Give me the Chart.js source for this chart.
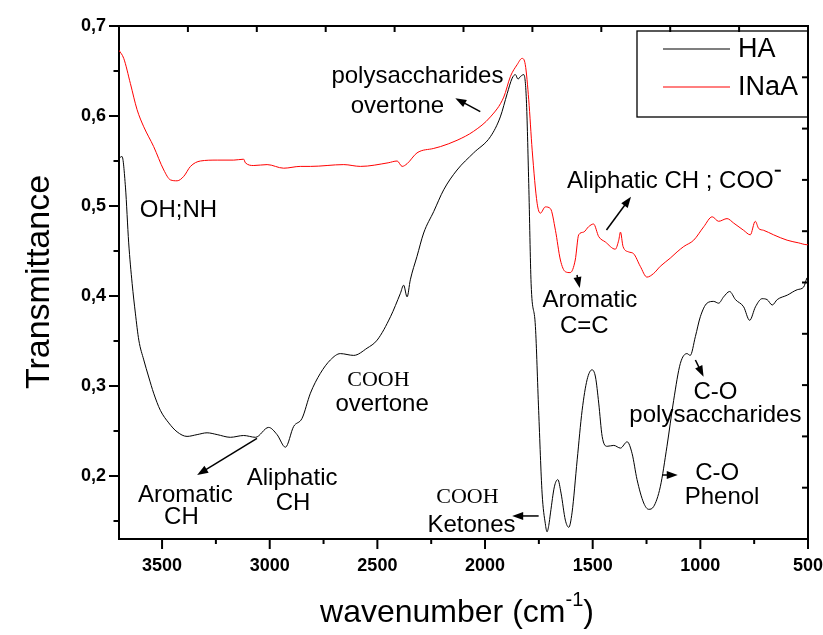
<!DOCTYPE html>
<html><head><meta charset="utf-8">
<script src="https://cdn.jsdelivr.net/npm/chart.js@4.4.1/dist/chart.umd.min.js"></script>
<style>html,body{margin:0;padding:0;background:#fff}canvas{display:block}</style>
</head><body>
<canvas id="c" width="823" height="635"></canvas>
<script>
// ---------- data ----------
const haWavenumber = [3700,3686,3670,3655,3639,3624,3608,3585,3562,3539,3508,3469,3430,3384,3337,3291,3244,3183,3121,3066,3005,2966,2927,2889,2850,2811,2765,2718,2672,2610,2548,2501,2439,2393,2378,2362,2347,2316,2285,2238,2192,2130,2053,1975,1929,1897,1874,1859,1847,1835,1820,1808,1797,1786,1766,1751,1735,1720,1712,1704,1696,1678,1662,1647,1627,1611,1596,1572,1549,1526,1503,1487,1472,1456,1433,1402,1371,1340,1317,1294,1263,1240,1217,1186,1155,1124,1093,1062,1047,1023,1000,969,938,915,892,864,837,799,771,744,713,690,666,643,596,550,520,505,500];
const haTransmittance = [0.553,0.555,0.521,0.459,0.414,0.381,0.351,0.329,0.310,0.292,0.273,0.259,0.249,0.244,0.246,0.248,0.246,0.243,0.245,0.243,0.254,0.246,0.232,0.255,0.264,0.292,0.314,0.329,0.336,0.334,0.342,0.351,0.377,0.403,0.412,0.399,0.418,0.444,0.470,0.494,0.518,0.540,0.559,0.577,0.599,0.625,0.642,0.646,0.641,0.644,0.646,0.618,0.525,0.414,0.366,0.273,0.181,0.147,0.138,0.145,0.159,0.188,0.196,0.181,0.151,0.143,0.159,0.218,0.273,0.307,0.318,0.310,0.281,0.244,0.233,0.234,0.231,0.238,0.225,0.196,0.170,0.163,0.166,0.188,0.233,0.284,0.325,0.336,0.334,0.355,0.377,0.392,0.394,0.392,0.399,0.405,0.396,0.388,0.373,0.388,0.397,0.396,0.390,0.396,0.401,0.407,0.410,0.420,0.421];

const inaaWavenumber = [3700,3678,3647,3616,3585,3539,3492,3461,3430,3399,3368,3322,3244,3167,3121,3113,3074,3012,2935,2858,2811,2656,2579,2450,2408,2385,2362,2316,2238,2207,2130,2053,1975,1913,1882,1851,1828,1813,1797,1781,1758,1743,1720,1696,1673,1650,1627,1604,1581,1565,1542,1519,1496,1472,1441,1395,1379,1371,1359,1333,1310,1279,1248,1217,1186,1140,1108,1077,1031,984,945,915,876,845,799,768,745,729,706,660,597,543,505,500];
const inaaTransmittance = [0.673,0.664,0.636,0.607,0.588,0.566,0.540,0.529,0.528,0.533,0.544,0.550,0.551,0.551,0.552,0.548,0.545,0.546,0.542,0.544,0.544,0.546,0.544,0.548,0.550,0.544,0.547,0.559,0.564,0.566,0.573,0.583,0.599,0.621,0.644,0.657,0.664,0.657,0.618,0.562,0.503,0.492,0.499,0.497,0.473,0.440,0.427,0.426,0.440,0.468,0.471,0.477,0.480,0.466,0.460,0.452,0.462,0.471,0.455,0.449,0.447,0.433,0.421,0.425,0.433,0.442,0.449,0.455,0.462,0.477,0.488,0.483,0.486,0.481,0.473,0.468,0.483,0.475,0.473,0.468,0.462,0.459,0.457,0.457];

const seriesNames = ['HA', 'INaA'];
const xTickValues = [500,750,1000,1250,1500,1750,2000,2250,2500,2750,3000,3250,3500];
const yTickValues = [0.15,0.2,0.25,0.3,0.35,0.4,0.45,0.5,0.55,0.6,0.65,0.7];
const xRange = [500, 3700];
const yRange = [0.13, 0.7];
const frameTicks = [1,2,3,4,5,6,7,8,9];

// annotation texts (positions in data units: wavenumber, transmittance)
const labelTexts = [
  ['polysaccharides', 2314, 0.6437, 'sans'],
  ['overtone', 2407, 0.6111, 'sans'],
  ['OH;NH', 3424, 0.4956, 'sans'],
  ['Aromatic', 1513, 0.3956, 'sans'],
  ['C=C', 1539, 0.3659, 'sans'],
  ['COOH', 2495, 0.3067, 'serif'],
  ['overtone', 2478, 0.2800, 'sans'],
  ['Aromatic', 3392, 0.1789, 'sans'],
  ['CH', 3410, 0.1544, 'sans'],
  ['Aliphatic', 2896, 0.1974, 'sans'],
  ['CH', 2892, 0.1697, 'sans'],
  ['COOH', 2082, 0.1767, 'serif'],
  ['Ketones', 2063, 0.1456, 'sans'],
  ['C-O', 922, 0.2030, 'sans'],
  ['Phenol', 899, 0.1763, 'sans'],
  ['C-O', 930, 0.2930, 'sans'],
  ['polysaccharides', 930, 0.2678, 'sans']
];
const leftLabel = ['Aliphatic CH ; COO', 1619, 0.527];
const arrowList = [
  [2022, 0.6048, 2138, 0.6197],
  [1436, 0.4733, 1322, 0.5103],
  [1573, 0.4233, 1560, 0.4089],
  [3059, 0.2419, 3337, 0.2011],
  [1751, 0.1556, 1874, 0.1556],
  [1178, 0.2011, 1105, 0.2011],
  [1023, 0.3289, 985, 0.3103]
];

const SANS = '"Liberation Sans", Arial, sans-serif';
const SERIF = '"Liberation Serif", "Times New Roman", serif';

function pairs(xs, ys) { return xs.map((x, i) => ({x: x, y: ys[i]})); }

const deco = {
  id: 'deco',
  afterDraw(chart) {
    const ctx = chart.ctx, a = chart.chartArea;
    const sx = chart.scales.x, sy = chart.scales.y, tx = chart.scales.x2, ry = chart.scales.y2;
    ctx.save();
    ctx.strokeStyle = '#000'; ctx.fillStyle = '#000'; ctx.lineWidth = 2;
    const seg = (x1, y1, x2, y2) => { ctx.beginPath(); ctx.moveTo(x1, y1); ctx.lineTo(x2, y2); ctx.stroke(); };
    // bottom ticks (outside)
    xTickValues.forEach(v => { const p = sx.getPixelForValue(v); seg(p, a.bottom, p, a.bottom + (v % 500 === 0 ? 10 : 5)); });
    // left ticks (outside)
    yTickValues.forEach(v => { const p = sy.getPixelForValue(v); const major = Math.abs(v * 10 - Math.round(v * 10)) < 1e-6; seg(a.left, p, a.left - (major ? 10 : 5.5), p); });
    // top ticks (inside)
    frameTicks.forEach(v => { const p = tx.getPixelForValue(v); seg(p, a.top, p, a.top + 6); });
    // right ticks (inside)
    frameTicks.forEach(v => { const p = ry.getPixelForValue(v); seg(a.right, p, a.right - 6, p); });

    // legend
    ctx.lineWidth = 1.3;
    const lx = a.right - 171, ly = a.top + 5;
    ctx.strokeRect(lx, ly, 171, 86);
    ctx.font = '27px ' + SANS; ctx.textBaseline = 'middle'; ctx.textAlign = 'left';
    const lcolors = ['#000', '#ff0000'];
    [23, 61].forEach((dy, i) => {
      ctx.strokeStyle = lcolors[i]; ctx.lineWidth = 1.2;
      seg(lx + 26, ly + dy - 5, lx + 93, ly + dy - 5);
      ctx.fillStyle = '#000';
      ctx.fillText(seriesNames[i], lx + 101, ly + dy - 4);
    });

    // annotations
    ctx.fillStyle = '#000'; ctx.strokeStyle = '#000';
    ctx.textAlign = 'center'; ctx.textBaseline = 'middle';
    labelTexts.forEach(t => {
      ctx.font = t[3] === 'serif' ? '22px ' + SERIF : '24px ' + SANS;
      ctx.fillText(t[0], sx.getPixelForValue(t[1]), sy.getPixelForValue(t[2]));
    });
    ctx.textAlign = 'left'; ctx.font = '24px ' + SANS;
    const lpx = sx.getPixelForValue(leftLabel[1]), lpy = sy.getPixelForValue(leftLabel[2]);
    ctx.fillText(leftLabel[0], lpx, lpy);
    const w = ctx.measureText(leftLabel[0]).width;
    ctx.lineWidth = 2;
    seg(lpx + w + 1, lpy - 11, lpx + w + 7, lpy - 11);

    // arrows
    arrowList.forEach(r => {
      const x1 = sx.getPixelForValue(r[0]), y1 = sy.getPixelForValue(r[1]);
      const x2 = sx.getPixelForValue(r[2]), y2 = sy.getPixelForValue(r[3]);
      const ang = Math.atan2(y2 - y1, x2 - x1);
      const hl = 11, hw = 4;
      ctx.lineWidth = 1.5;
      seg(x1, y1, x2 - Math.cos(ang) * hl * 0.8, y2 - Math.sin(ang) * hl * 0.8);
      ctx.beginPath();
      ctx.moveTo(x2, y2);
      ctx.lineTo(x2 - Math.cos(ang) * hl - Math.sin(ang) * hw, y2 - Math.sin(ang) * hl + Math.cos(ang) * hw);
      ctx.lineTo(x2 - Math.cos(ang) * hl + Math.sin(ang) * hw, y2 - Math.sin(ang) * hl - Math.cos(ang) * hw);
      ctx.closePath(); ctx.fill();
    });

    // axis titles
    ctx.save();
    ctx.translate(40, 282); ctx.rotate(-Math.PI / 2);
    ctx.textAlign = 'center'; ctx.textBaseline = 'middle';
    ctx.font = '34px ' + SANS;
    ctx.fillText('Transmittance', 0, 0);
    ctx.restore();

    const big = '32px ' + SANS, small = '20px ' + SANS;
    const p1 = 'wavenumber (cm', p2 = '-1', p3 = ')';
    ctx.font = big; const w1 = ctx.measureText(p1).width, w3 = ctx.measureText(p3).width;
    ctx.font = small; const w2 = ctx.measureText(p2).width;
    const total = w1 + w2 + w3;
    let cx = 457 - total / 2; const cy = 613;
    ctx.textAlign = 'left'; ctx.textBaseline = 'middle';
    ctx.font = big; ctx.fillText(p1, cx, cy); cx += w1;
    ctx.font = small; ctx.fillText(p2, cx, cy - 13); cx += w2;
    ctx.font = big; ctx.fillText(p3, cx, cy);
    ctx.restore();
  }
};

new Chart(document.getElementById('c'), {
  type: 'line',
  data: {
    datasets: [
      { label: seriesNames[0], data: pairs(haWavenumber, haTransmittance), borderColor: '#000', borderWidth: 1, pointRadius: 0, cubicInterpolationMode: 'monotone', fill: false, order: 1 },
      { label: seriesNames[1], data: pairs(inaaWavenumber, inaaTransmittance), borderColor: '#ff0000', borderWidth: 1, pointRadius: 0, cubicInterpolationMode: 'monotone', fill: false, order: 0 }
    ]
  },
  options: {
    responsive: false, animation: false, devicePixelRatio: 1,
    layout: { padding: 0 },
    plugins: { legend: { display: false }, tooltip: { enabled: false } },
    scales: {
      x: {
        type: 'linear', position: 'bottom', reverse: true, min: xRange[0], max: xRange[1],
        afterBuildTicks: s => { s.ticks = xTickValues.map(v => ({value: v})); },
        afterFit: s => { s.height = 96; },
        grid: { drawOnChartArea: false, drawTicks: false },
        border: { display: true, color: '#000', width: 2 },
        ticks: { autoSkip: false, maxRotation: 0, padding: 16, color: '#000', font: { family: SANS, size: 18, weight: 'bold' },
          callback: v => (v % 500 === 0 ? String(v) : '') }
      },
      x2: {
        type: 'linear', position: 'top', min: 0, max: 10,
        afterFit: s => { s.height = 26; },
        grid: { drawOnChartArea: false, drawTicks: false },
        border: { display: true, color: '#000', width: 2 },
        ticks: { display: false }
      },
      y: {
        type: 'linear', position: 'left', min: yRange[0], max: yRange[1],
        afterBuildTicks: s => { s.ticks = yTickValues.map(v => ({value: v})); },
        afterFit: s => { s.width = 119; },
        grid: { drawOnChartArea: false, drawTicks: false },
        border: { display: true, color: '#000', width: 2 },
        ticks: { autoSkip: false, padding: 13, color: '#000', font: { family: SANS, size: 18, weight: 'bold' },
          callback: v => { const m = Math.abs(v * 10 - Math.round(v * 10)) < 1e-6; return m ? v.toFixed(1).replace('.', ',') : ''; } }
      },
      y2: {
        type: 'linear', position: 'right', min: 0, max: 10,
        afterFit: s => { s.width = 15; },
        grid: { drawOnChartArea: false, drawTicks: false },
        border: { display: true, color: '#000', width: 2 },
        ticks: { display: false }
      }
    }
  },
  plugins: [deco]
});
</script>
</body></html>
